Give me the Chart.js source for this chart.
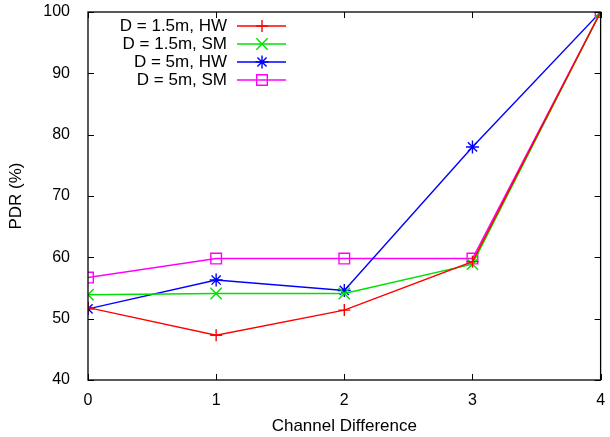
<!DOCTYPE html>
<html>
<head>
<meta charset="utf-8">
<script src="https://cdn.jsdelivr.net/npm/chart.js@4/dist/chart.umd.min.js"></script>
<style>
  html, body { margin: 0; padding: 0; background: #fff; }
  #wrap { width: 610px; height: 437px; }
</style>
</head>
<body>
<div id="wrap"><canvas id="pdrChart" width="610" height="437"></canvas></div>
<script>
const channelDiff = [0, 1, 2, 3, 4];
const seriesNames = ['D = 1.5m, HW', 'D = 1.5m, SM', 'D = 5m, HW', 'D = 5m, SM'];
const hw15 = [51.8, 47.3, 51.4, 59.3, 100];
const sm15 = [53.9, 54.1, 54.1, 58.9, 100];
const hw5 = [51.6, 56.3, 54.6, 78.0, 100];
const sm5 = [56.7, 59.8, 59.8, 59.8, 100];
const yTicks = [40, 50, 60, 70, 80, 90, 100];

const colors = ['#ff0000', '#00e000', '#0000ff', '#ff00ff'];
const markers = ['cross', 'crossRot', 'star', 'rect'];
const radii = [6, 8, 6.5, 7.5];
const allValues = [hw15, sm15, hw5, sm5];

const FONT = 'Liberation Sans, Arial, Helvetica, sans-serif';
const FS = 16;   // tick labels
const FT = 17;   // titles and legend

function makeDataset(i) {
  return {
    label: seriesNames[i],
    data: channelDiff.map((x, k) => ({ x: x, y: allValues[i][k] })),
    borderColor: colors[i],
    backgroundColor: 'rgba(0,0,0,0)',
    borderWidth: 1.4,
    pointStyle: markers[i],
    pointRadius: radii[i],
    pointBorderColor: colors[i],
    pointBackgroundColor: 'rgba(0,0,0,0)',
    pointBorderWidth: 1.4,
    tension: 0,
    fill: false
  };
}

// gnuplot style frame: full box, inward ticks mirrored on top/right, legend at top-left
const gnuFrame = {
  id: 'gnuFrame',
  afterDraw(chart) {
    const ctx = chart.ctx;
    const a = chart.chartArea;
    const xs = chart.scales.x, ys = chart.scales.y;
    ctx.save();
    ctx.strokeStyle = '#000';
    ctx.lineWidth = 1.3;
    ctx.strokeRect(a.left, a.top, a.right - a.left, a.bottom - a.top);
    ctx.lineWidth = 1;
    const t = 6;
    ctx.beginPath();
    channelDiff.forEach(v => {
      const px = Math.round(xs.getPixelForValue(v)) + 0.5;
      ctx.moveTo(px, a.bottom); ctx.lineTo(px, a.bottom - t);
      ctx.moveTo(px, a.top); ctx.lineTo(px, a.top + t);
    });
    yTicks.forEach(v => {
      const py = Math.round(ys.getPixelForValue(v)) + 0.5;
      ctx.moveTo(a.left, py); ctx.lineTo(a.left + t, py);
      ctx.moveTo(a.right, py); ctx.lineTo(a.right - t, py);
    });
    ctx.stroke();

    // legend
    ctx.font = FT + 'px ' + FONT;
    ctx.textAlign = 'right';
    ctx.textBaseline = 'middle';
    chart.data.datasets.forEach((ds, i) => {
      const y = 26 + 18 * i;
      ctx.fillStyle = '#000';
      ctx.fillText(ds.label, 227, y);
      ctx.strokeStyle = ds.borderColor;
      ctx.lineWidth = ds.borderWidth;
      ctx.beginPath();
      ctx.moveTo(237, y); ctx.lineTo(286, y);
      ctx.stroke();
      ctx.fillStyle = 'rgba(0,0,0,0)';
      Chart.helpers.drawPoint(ctx, {
        pointStyle: ds.pointStyle,
        radius: ds.pointRadius,
        borderWidth: ds.pointBorderWidth,
        rotation: 0
      }, 262, y);
    });
    ctx.restore();
  }
};

new Chart(document.getElementById('pdrChart'), {
  type: 'line',
  data: { datasets: [0, 1, 2, 3].map(makeDataset) },
  options: {
    responsive: false,
    animation: false,
    layout: { padding: { top: 12, right: 9, left: 0, bottom: 0 } },
    plugins: { legend: { display: false }, tooltip: { enabled: false } },
    scales: {
      x: {
        type: 'linear',
        min: 0, max: 4,
        afterFit(s) { s.height = 57; s.paddingLeft = 0; s.paddingRight = 0; },
        afterBuildTicks(s) { s.ticks = channelDiff.map(v => ({ value: v })); },
        grid: { display: false },
        border: { display: false },
        ticks: { color: '#000', font: { family: FONT, size: FS }, padding: 3, maxRotation: 0 },
        title: { display: true, text: 'Channel Difference', color: '#000', font: { family: FONT, size: FT }, padding: { top: 4, bottom: 0 } }
      },
      y: {
        min: 40, max: 100,
        afterFit(s) { s.width = 88; s.paddingTop = 0; s.paddingBottom = 0; },
        afterBuildTicks(s) { s.ticks = yTicks.map(v => ({ value: v })); },
        grid: { display: false },
        border: { display: false },
        ticks: { color: '#000', font: { family: FONT, size: FS }, padding: 10 },
        title: { display: true, text: 'PDR (%)', color: '#000', font: { family: FONT, size: FT }, padding: { top: 6, bottom: 0 } }
      }
    }
  },
  plugins: [gnuFrame]
});
</script>
</body>
</html>
